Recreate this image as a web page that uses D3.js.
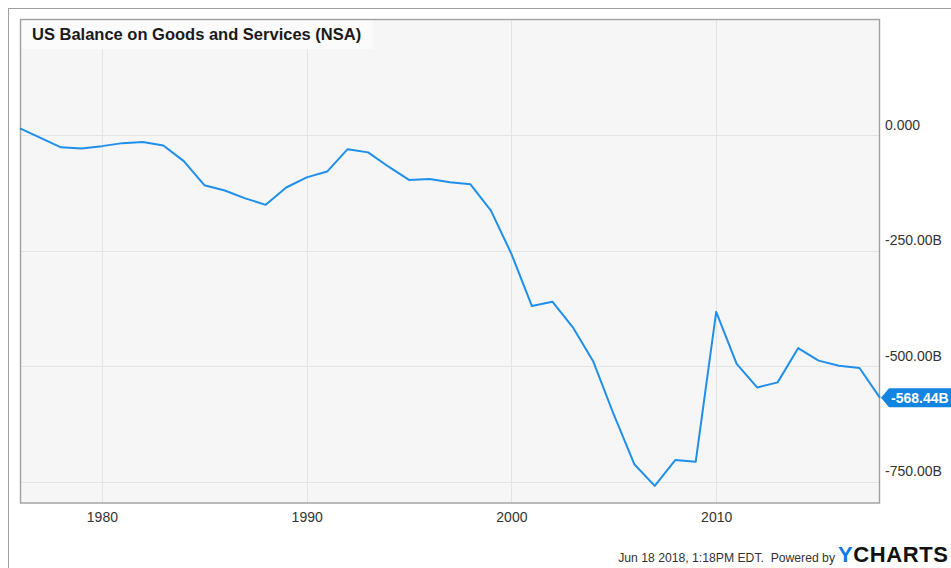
<!DOCTYPE html>
<html>
<head>
<meta charset="utf-8">
<script src="https://cdn.jsdelivr.net/npm/d3@7"></script>
<style>
  html, body { margin: 0; padding: 0; background: #fff; }
  svg { display: block; font-family: "Liberation Sans", Arial, Helvetica, sans-serif; }
</style>
</head>
<body>
<svg id="chart" width="951" height="568"></svg>
<script>
// Annual US balance on goods and services, billions of USD (year-end observations)
const years = [1975, 1976, 1977, 1978, 1979, 1980, 1981, 1982, 1983, 1984,
               1985, 1986, 1987, 1988, 1989, 1990, 1991, 1992, 1993, 1994,
               1995, 1996, 1997, 1998, 1999, 2000, 2001, 2002, 2003, 2004,
               2005, 2006, 2007, 2008, 2009, 2010, 2011, 2012, 2013, 2014,
               2015, 2016, 2017];
const balance = [14.5, -6.1, -26.5, -29.0, -24.0, -17.5, -15.0, -22.5, -56.5, -108.5,
                 -120.0, -137.0, -151.0, -113.5, -91.5, -79.0, -30.5, -37.5, -68.5, -97.0,
                 -95.0, -102.0, -106.5, -163.5, -257.0, -370.0, -360.5, -416.0, -490.0, -605.0,
                 -712.0, -759.0, -703.0, -706.5, -382.5, -495.0, -546.0, -535.0, -461.0, -488.0,
                 -499.0, -504.0, -568.44];
const yTicks = [0, -250, -500, -750];
const yTickLabels = ["0.000", "-250.00B", "-500.00B", "-750.00B"];
const xTickYears = [1980, 1990, 2000, 2010];
const title = "US Balance on Goods and Services (NSA)";
const lastLabel = "-568.44B";
const footerText = "Jun 18 2018, 1:18PM EDT.  Powered by";

const svg = d3.select("#chart");
const plot = { left: 20, top: 19, right: 880, bottom: 503.5 };

const x = d3.scaleTime()
  .domain([new Date(1976, 0, 1), new Date(2018, 0, 1)])
  .range([plot.left, plot.right]);
const y = d3.scaleLinear()
  .domain([251, -797])
  .range([plot.top, plot.bottom]);

const data = years.map((yr, i) => ({ date: new Date(yr + 1, 0, 1), value: balance[i] }));

// outer frame
svg.append("rect")
  .attr("x", 8.5).attr("y", 8.5)
  .attr("width", 960).attr("height", 580)
  .attr("fill", "none").attr("stroke", "#a0a0a0").attr("stroke-width", 1);

// plot background
svg.append("rect")
  .attr("x", plot.left).attr("y", plot.top)
  .attr("width", plot.right - plot.left).attr("height", plot.bottom - plot.top)
  .attr("fill", "#f6f6f6");

// gridlines
const grid = svg.append("g").attr("stroke", "#e4e4e4").attr("stroke-width", 1);
grid.selectAll("line.h").data(yTicks).join("line")
  .attr("class", "h")
  .attr("x1", plot.left).attr("x2", plot.right)
  .attr("y1", d => Math.round(y(d)) + 0.5).attr("y2", d => Math.round(y(d)) + 0.5);
grid.selectAll("line.v").data(xTickYears).join("line")
  .attr("class", "v")
  .attr("y1", plot.top).attr("y2", plot.bottom)
  .attr("x1", d => Math.round(x(new Date(d, 0, 1))) + 0.5)
  .attr("x2", d => Math.round(x(new Date(d, 0, 1))) + 0.5);

// title box
const titleG = svg.append("g");
titleG.append("rect")
  .attr("x", plot.left).attr("y", plot.top)
  .attr("width", 353).attr("height", 30)
  .attr("fill", "#fbfbfb");
titleG.append("text")
  .attr("x", 32).attr("y", 39.5)
  .attr("font-size", 16.5).attr("font-weight", "bold").attr("fill", "#1a1a1a")
  .text(title);

// plot border
svg.append("rect")
  .attr("x", plot.left + 0.5).attr("y", plot.top + 0.5)
  .attr("width", plot.right - plot.left - 1).attr("height", plot.bottom - plot.top - 1)
  .attr("fill", "none").attr("stroke", "#a0a0a0").attr("stroke-width", 1.4);

// series line
const line = d3.line().x(d => x(d.date)).y(d => y(d.value));
svg.append("path")
  .datum(data)
  .attr("d", line)
  .attr("fill", "none")
  .attr("stroke", "#1f8fec")
  .attr("stroke-width", 2)
  .attr("stroke-linejoin", "round");

// right y axis labels
const yAxis = d3.axisRight(y).tickValues(yTicks).tickSize(0)
  .tickFormat((d, i) => yTickLabels[i]);
const yG = svg.append("g").attr("transform", `translate(${plot.right + 5},0)`).call(yAxis);
yG.select(".domain").remove();
yG.selectAll("text")
  .attr("x", 0).attr("dy", "-0.42em")
  .attr("font-family", "Liberation Sans, Arial, sans-serif")
  .attr("font-size", 14).attr("fill", "#333");

// bottom x axis labels
const xAxis = d3.axisBottom(x).tickValues(xTickYears.map(yr => new Date(yr, 0, 1)))
  .tickSize(0).tickFormat(d3.timeFormat("%Y"));
const xG = svg.append("g").attr("transform", `translate(0,${plot.bottom + 6})`).call(xAxis);
xG.select(".domain").remove();
xG.selectAll("text")
  .attr("font-family", "Liberation Sans, Arial, sans-serif")
  .attr("font-size", 14).attr("fill", "#333");

// last value flag
const last = data[data.length - 1];
const lx = x(last.date), ly = y(last.value);
svg.append("path")
  .attr("d", `M${lx + 1},${ly} L${lx + 9},${ly - 9.5} L951,${ly - 9.5} L951,${ly + 9.5} L${lx + 9},${ly + 9.5} Z`)
  .attr("fill", "#1384e0");
svg.append("text")
  .attr("x", lx + 11).attr("y", ly + 5)
  .attr("font-size", 14).attr("font-weight", "bold").attr("fill", "#fff")
  .text(lastLabel);

// footer
svg.append("text")
  .attr("x", 835).attr("y", 562)
  .attr("text-anchor", "end")
  .attr("font-size", 12.2).attr("fill", "#333")
  .style("white-space", "pre")
  .attr("xml:space", "preserve")
  .text(footerText);
const logo = svg.append("text")
  .attr("x", 838).attr("y", 562)
  .attr("font-size", 22).attr("font-weight", "bold")
  .attr("letter-spacing", 0.6);
logo.append("tspan").attr("fill", "#1479de").text("Y");
logo.append("tspan").attr("fill", "#111").text("CHARTS");
</script>
</body>
</html>
